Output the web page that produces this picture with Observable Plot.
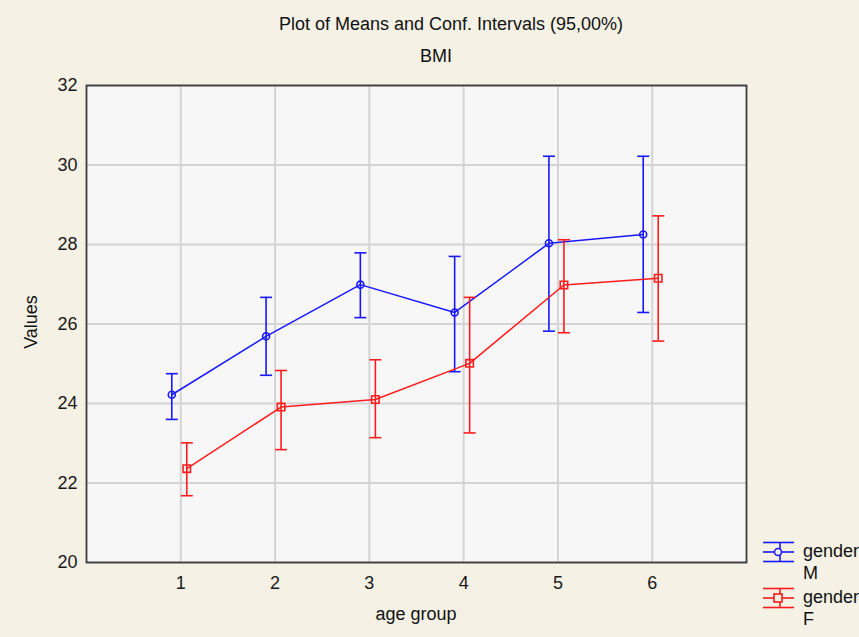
<!DOCTYPE html>
<html>
<head>
<meta charset="utf-8">
<script src="https://cdn.jsdelivr.net/npm/d3@7"></script>
<script src="https://cdn.jsdelivr.net/npm/@observablehq/plot@0.6"></script>
<style>
  html, body { margin: 0; padding: 0; background: #f5f1e5; }
  #wrap { position: relative; width: 859px; height: 637px; overflow: hidden; font-family: "Liberation Sans", Arial, sans-serif; color: #111; }
  .t { position: absolute; white-space: nowrap; font-size: 18px; line-height: 1; }
  #chart svg { display: block; }
</style>
</head>
<body>
<div id="wrap">
  <div id="chart"></div>
  <div class="t" id="title" style="left:0;top:15px;width:902px;text-align:center;">Plot of Means and Conf. Intervals (95,00%)</div>
  <div class="t" id="subtitle" style="left:0;top:47px;width:872px;text-align:center;">BMI</div>
  <div class="t" id="ylab" style="left:31px;top:322px;transform:translate(-50%,-50%) rotate(-90deg);">Values</div>
  <div class="t" id="xlab" style="left:0;top:605px;width:832px;text-align:center;">age group</div>
  <div id="legend"></div>
</div>
<script>
const groups = [1, 2, 3, 4, 5, 6];
const seriesNames = ["M", "F"];
const maleMean = [24.22, 25.69, 26.99, 26.29, 28.03, 28.25];
const maleLow  = [23.60, 24.71, 26.16, 24.80, 25.82, 26.29];
const maleHigh = [24.75, 26.67, 27.79, 27.70, 30.22, 30.22];
const femaleMean = [22.36, 23.91, 24.10, 25.01, 26.98, 27.15];
const femaleLow  = [21.68, 22.84, 23.14, 23.26, 25.78, 25.57];
const femaleHigh = [23.01, 24.83, 25.10, 26.67, 28.12, 28.72];
const yTicks = [20, 22, 24, 26, 28, 30, 32];

const BLUE = "#1818ff", RED = "#ff1c1c";

const male = groups.map((g, i) => ({group: g, mean: maleMean[i], lo: maleLow[i], hi: maleHigh[i]}));
const female = groups.map((g, i) => ({group: g, mean: femaleMean[i], lo: femaleLow[i], hi: femaleHigh[i]}));

const capSymbol = {
  draw(ctx, size) {
    const r = Math.sqrt(size / Math.PI);
    ctx.moveTo(-r, 0); ctx.lineTo(r, 0);
  }
};

function seriesMarks(data, color, dx, symbol, r) {
  return [
    Plot.ruleX(data, {x: "group", y1: "lo", y2: "hi", stroke: color, strokeWidth: 1.6, dx}),
    Plot.dot(data, {x: "group", y: "lo", symbol: capSymbol, r: 6, stroke: color, fill: "none", strokeWidth: 1.6, dx}),
    Plot.dot(data, {x: "group", y: "hi", symbol: capSymbol, r: 6, stroke: color, fill: "none", strokeWidth: 1.6, dx}),
    Plot.line(data, {x: "group", y: "mean", stroke: color, strokeWidth: 1.5, dx}),
    Plot.dot(data, {x: "group", y: "mean", symbol, r, stroke: color, fill: "none", strokeWidth: 1.6, dx})
  ];
}

const chart = Plot.plot({
  width: 859,
  height: 637,
  marginLeft: 86,
  marginRight: 113,
  marginTop: 85,
  marginBottom: 75,
  style: {background: "transparent", fontFamily: "Liberation Sans, Arial, sans-serif", fontSize: "18px", color: "#1a1a1a"},
  x: {domain: [0, 7]},
  y: {domain: [20, 32]},
  marks: [
    Plot.frame({fill: "#f7f7f7"}),
    Plot.gridX(groups, {stroke: "#d4d4d4", strokeOpacity: 1, strokeWidth: 2}),
    Plot.gridY(yTicks, {stroke: "#d4d4d4", strokeOpacity: 1, strokeWidth: 2}),
    Plot.axisX(groups, {tickSize: 0, tickPadding: 14, label: null, fontSize: 18}),
    Plot.axisY(yTicks, {tickSize: 0, tickPadding: 9, label: null, fontSize: 18}),
    ...seriesMarks(male, BLUE, -9, "circle", 3.5),
    ...seriesMarks(female, RED, 6, "square", 4.2),
    Plot.frame({stroke: "#3c3c3c", strokeWidth: 1.8})
  ]
});
document.getElementById("chart").appendChild(chart);

// legend
const legendItems = [
  {name: seriesNames[0], color: BLUE, shape: "circle", y: 552},
  {name: seriesNames[1], color: RED, shape: "square", y: 598}
];
const lg = document.getElementById("legend");
for (const it of legendItems) {
  const ns = "http://www.w3.org/2000/svg";
  const svg = document.createElementNS(ns, "svg");
  svg.setAttribute("width", 40); svg.setAttribute("height", 30);
  svg.style.position = "absolute"; svg.style.left = "760px"; svg.style.top = (it.y - 15) + "px";
  const mk = (tag, attrs) => { const e = document.createElementNS(ns, tag); for (const k in attrs) e.setAttribute(k, attrs[k]); svg.appendChild(e); return e; };
  const c = it.color;
  mk("line", {x1: 3, x2: 34, y1: 5.5, y2: 5.5, stroke: c, "stroke-width": 1.6});
  mk("line", {x1: 3, x2: 34, y1: 15, y2: 15, stroke: c, "stroke-width": 1.6});
  mk("line", {x1: 3, x2: 34, y1: 24.5, y2: 24.5, stroke: c, "stroke-width": 1.6});
  mk("line", {x1: 20, x2: 20, y1: 5.5, y2: 24.5, stroke: c, "stroke-width": 1.6});
  if (it.shape === "circle") mk("circle", {cx: 18, cy: 15, r: 3.5, fill: "#f5f1e5", stroke: c, "stroke-width": 1.6});
  else mk("rect", {x: 14, y: 11, width: 8, height: 8, fill: "#f5f1e5", stroke: c, "stroke-width": 1.6});
  lg.appendChild(svg);
  const t1 = document.createElement("div");
  t1.className = "t"; t1.style.left = "803px"; t1.style.top = (it.y - 10) + "px"; t1.textContent = "gender";
  const t2 = document.createElement("div");
  t2.className = "t"; t2.style.left = "803px"; t2.style.top = (it.y + 12) + "px"; t2.textContent = it.name;
  lg.appendChild(t1); lg.appendChild(t2);
}
</script>
</body>
</html>
